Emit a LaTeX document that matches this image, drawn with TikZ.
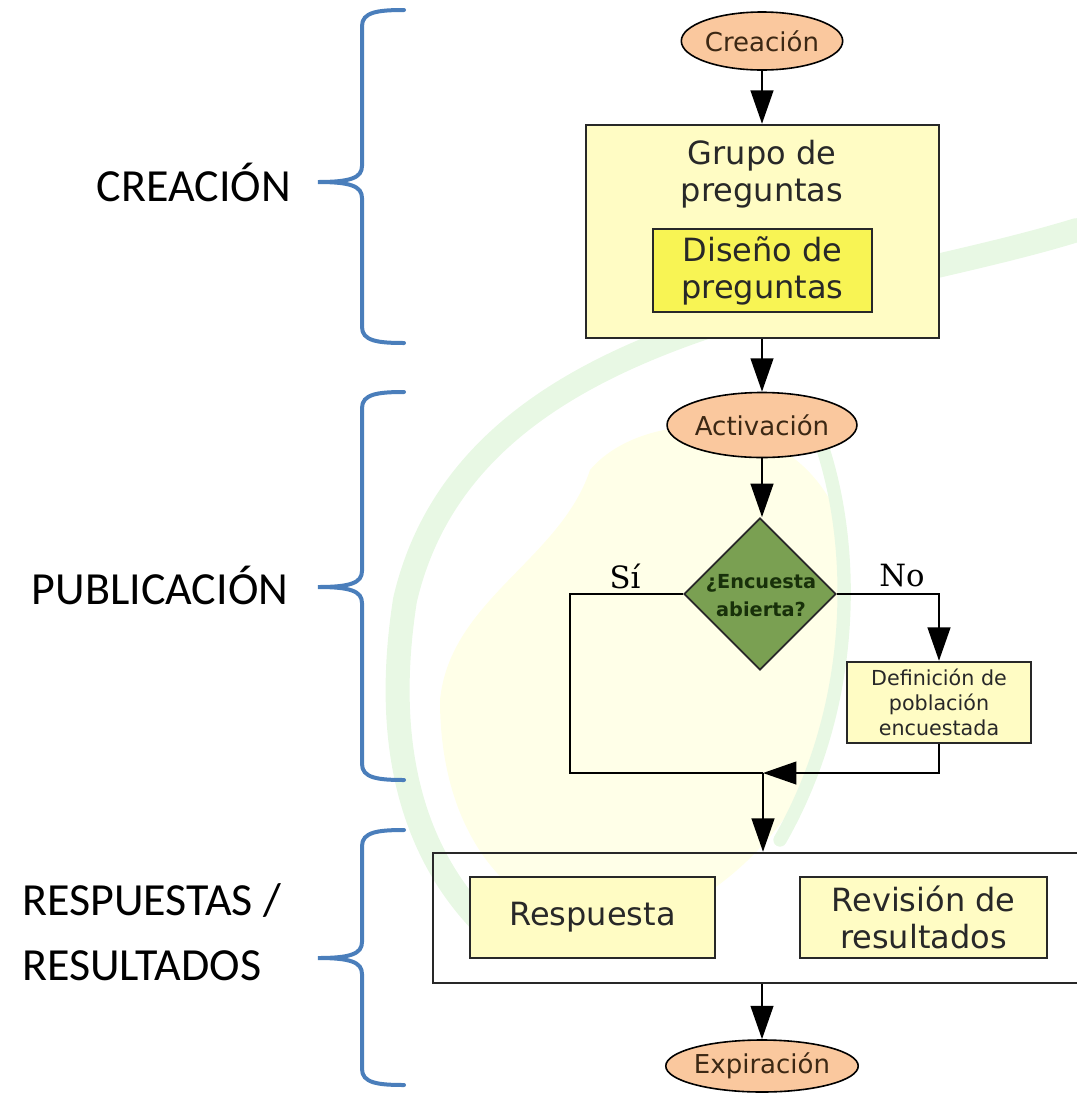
\documentclass[tikz,border=0pt]{standalone}
\usepackage{fontspec}
\usetikzlibrary{shapes.geometric,arrows.meta}
\newfontfamily\dvs{DejaVu Sans}
\newfontfamily\dvserif{DejaVu Serif}
\newfontfamily\calib{Carlito}
\definecolor{peach}{RGB}{250,200,158}
\definecolor{paley}{RGB}{255,252,196}
\definecolor{bright}{RGB}{248,244,84}
\definecolor{dgreen}{RGB}{122,160,82}
\definecolor{dktext}{RGB}{24,48,10}
\definecolor{bordc}{RGB}{40,40,40}
\definecolor{txtc}{RGB}{40,40,40}
\definecolor{brownt}{RGB}{60,40,20}
\definecolor{braceblue}{RGB}{74,126,187}
\definecolor{wmgreen}{RGB}{232,248,228}
\definecolor{wmyellow}{RGB}{255,255,232}
\begin{document}
\begin{tikzpicture}[x=0.75pt,y=-0.75pt,
  box/.style={draw=bordc, line width=1.8pt, fill=paley, inner sep=0pt, align=center, text=txtc,
    font=\dvs\fontsize{24}{27.75}\selectfont},
  oval/.style={ellipse, draw=black, line width=1.2pt, fill=peach, inner sep=0pt, text=brownt,
    font=\dvs\fontsize{19.5}{22}\selectfont},
  conn/.style={line width=1.6pt, draw=black},
  arr/.style={conn, -{Triangle[length=25pt,width=17pt]}},
  brace/.style={draw=braceblue, line width=3pt, line cap=round},
  lbl/.style={font=\calib\fontsize{34.5}{48.75}\selectfont, text=black, inner sep=0pt}]
\useasboundingbox (0,0) rectangle (1077,1093);
\clip (0,0) rectangle (1077,1093);
% faint watermark
\fill[wmyellow] (440,700) .. controls (450,600) and (560,560) .. (590,470)
  .. controls (640,410) and (790,400) .. (840,520) .. controls (870,660) and (830,840) .. (660,920)
  .. controls (540,950) and (440,860) .. (440,700) -- cycle;
\draw[wmgreen, line width=18pt, line cap=round] (1077,230) .. controls (850,300) and (470,320) .. (405,600)
  .. controls (380,760) and (420,870) .. (500,940);
\draw[wmgreen, line width=10pt, line cap=round] (820,440) .. controls (855,540) and (860,700) .. (780,840);
% braces
\draw[brace] (404,10) .. controls (378,10) and (362,12) .. (362,26) -- (362,166)
  .. controls (362,178) and (350,182) .. (318,182) .. controls (350,182) and (362,186) .. (362,198)
  -- (362,327) .. controls (362,341) and (378,343) .. (404,343);
\draw[brace] (404,392) .. controls (378,392) and (362,394) .. (362,408) -- (362,571)
  .. controls (362,583) and (350,587) .. (318,587) .. controls (350,587) and (362,591) .. (362,603)
  -- (362,764) .. controls (362,778) and (378,780) .. (404,780);
\draw[brace] (404,830) .. controls (378,830) and (362,832) .. (362,846) -- (362,942)
  .. controls (362,954) and (350,958) .. (318,958) .. controls (350,958) and (362,962) .. (362,974)
  -- (362,1069) .. controls (362,1083) and (378,1085) .. (404,1085);
% phase labels
\node[lbl] (l1) at (194,182) {CREACIÓN};
\node[lbl] (l2) at (160,585) {PUBLICACIÓN};
\node[lbl, anchor=west, align=left] (l3) at (22,932) {RESPUESTAS /\\RESULTADOS};
% flowchart
\node[oval, minimum width=105pt, minimum height=43.5pt] (cre) at (762,41) {Creación};
\node[box, minimum width=264.75pt, minimum height=159.75pt] (grupo) at (762.5,231.5) {};
\node[align=center, text=txtc, inner sep=0pt, font=\dvs\fontsize{24}{27.75}\selectfont] (gt) at (762,174) {Grupo de\\preguntas};
\node[box, fill=bright, minimum width=164.25pt, minimum height=62.25pt] (dis) at (762.5,270.5) {Diseño de\\preguntas};
\node[oval, minimum width=111.75pt, minimum height=48.75pt] (act) at (762,425) {Activación};
\node[diamond, draw=bordc, line width=1.4pt, fill=dgreen, minimum width=114pt, minimum height=114pt, inner sep=0pt] (dec) at (760,594) {};
\node[align=center, text=dktext, inner sep=0pt, font=\dvs\bfseries\fontsize{14.5}{21}\selectfont] (dect) at (761,596) {¿Encuesta\\abierta?};
\node[font=\dvserif\fontsize{23}{26}\selectfont, inner sep=0pt] (si) at (625,576) {Sí};
\node[font=\dvserif\fontsize{23}{26}\selectfont, inner sep=0pt] (no) at (902,576) {No};
\node[box, minimum width=138pt, minimum height=60.75pt, font=\dvs\fontsize{15.5}{18.75}\selectfont] (def) at (939,702.5) {Definición de\\población\\encuestada};
\coordinate (m) at (763,773);
\coordinate (sic) at (570,773);
\node[draw=bordc, line width=1.8pt, inner sep=0pt, minimum width=500.25pt, minimum height=97.5pt] (outer) at (766.5,918) {};
\node[box, minimum width=183.75pt, minimum height=60.75pt] (resp) at (592.5,917.5) {Respuesta};
\node[box, minimum width=185.25pt, minimum height=60.75pt] (rev) at (923.5,917.5) {Revisión de\\resultados};
\node[oval, minimum width=124.5pt, minimum height=39pt] (exp) at (762,1066) {Expiración};
% connectors
\draw[arr] (cre.south) -- (grupo.north -| cre.south);
\draw[arr] (grupo.south -| act.north) -- (act.north);
\draw[arr] (act.south) -- (dec.north -| act.south);
\draw[conn] (dec.west) -| (sic) -- (m);
\draw[arr] (dec.east) -| (def.north);
\draw[arr] (def.south) |- (m);
\draw[arr] (m) -- (m |- outer.north);
\draw[arr] (outer.south -| exp.north) -- (exp.north);
\end{tikzpicture}
\end{document}
